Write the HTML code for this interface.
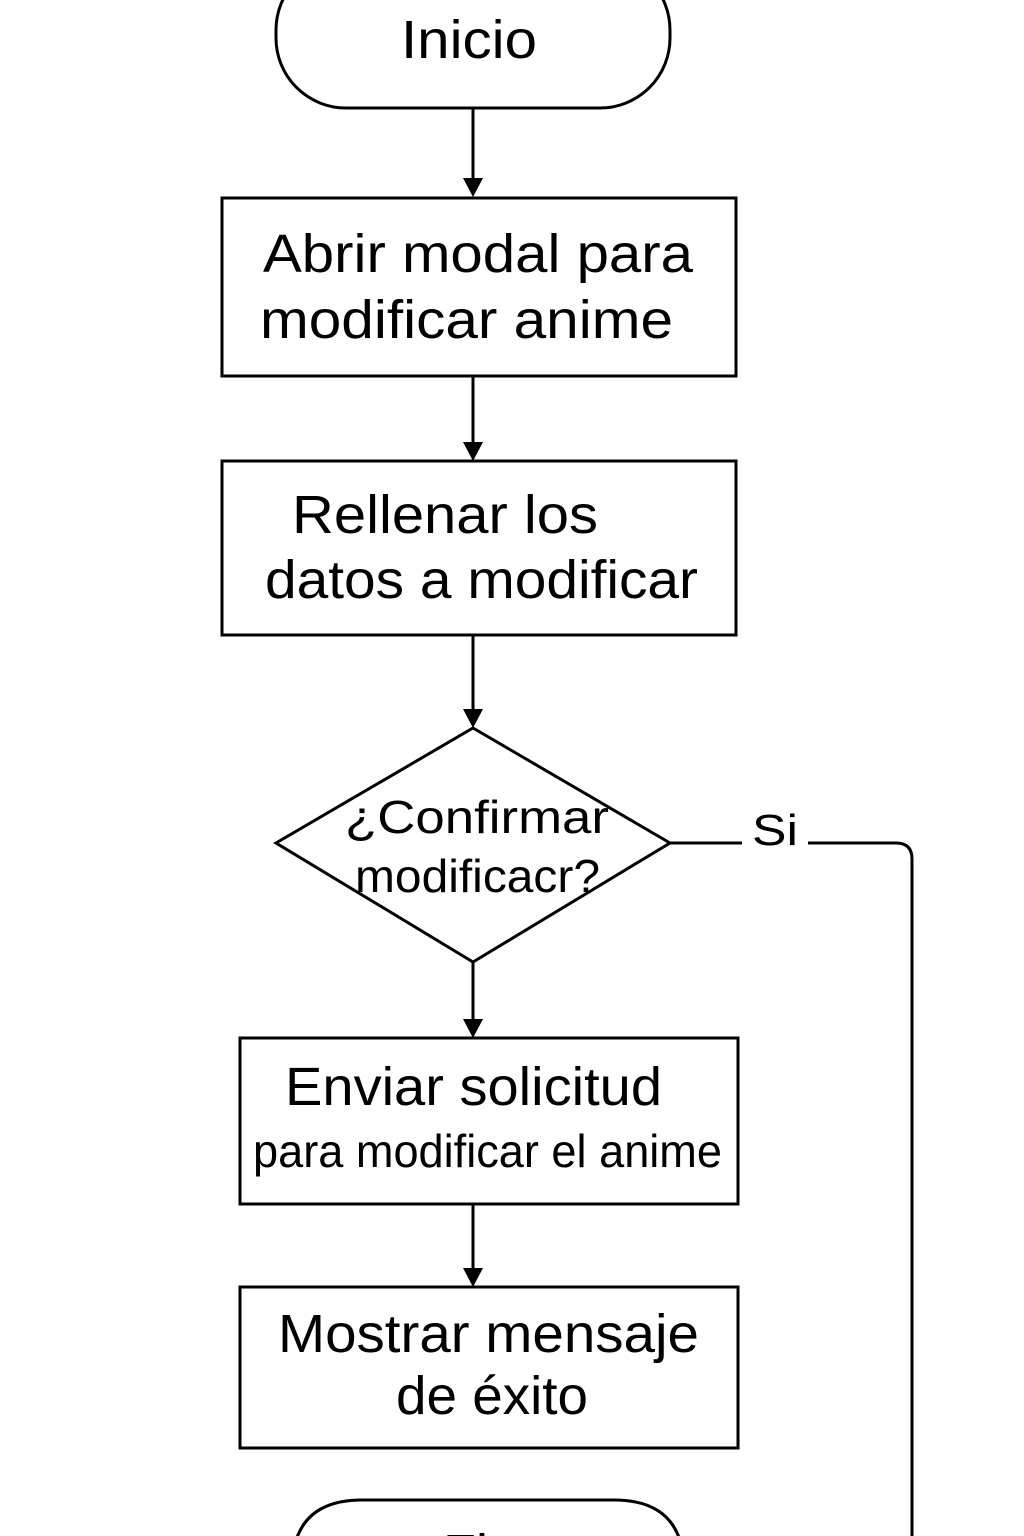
<!DOCTYPE html>
<html><head><meta charset="utf-8"><style>
html,body{margin:0;padding:0;background:#fff;width:1024px;height:1536px;overflow:hidden;}
svg{display:block;overflow:hidden;}
text{font-family:"Liberation Sans",sans-serif;fill:#000;}
</style></head><body>
<svg width="1024" height="1536" viewBox="0 0 1024 1536" xmlns="http://www.w3.org/2000/svg">
<g fill="none" stroke="#000" stroke-width="3">
<rect x="276" y="-40" width="394" height="148" rx="70"/>
<rect x="222" y="198" width="514" height="178"/>
<rect x="222" y="461" width="514" height="174"/>
<polygon points="473,728 670,843 473,962 276,843"/>
<rect x="240" y="1038" width="498" height="166"/>
<rect x="240" y="1287" width="498" height="161"/>
<path d="M292,1536 V1570 Q292,1500 362,1500 H614 Q684,1500 684,1570 V1536"/>
<path d="M473,108 V184 M473,376 V447 M473,635 V714 M473,962 V1024 M473,1204 V1273"/>
<path d="M670,843 H742 M808,843 H896 Q912,843 912,859 V1536"/>
</g>
<g fill="#000">
<path d="M463,178 L483,178 L473,197 Z"/>
<path d="M463,442 L483,442 L473,461 Z"/>
<path d="M463,709 L483,709 L473,728 Z"/>
<path d="M463,1019 L483,1019 L473,1038 Z"/>
<path d="M463,1268 L483,1268 L473,1287 Z"/>
</g>
<text x="401" y="58" font-size="54" textLength="136" lengthAdjust="spacingAndGlyphs">Inicio</text>
<text x="263" y="272" font-size="54" textLength="430" lengthAdjust="spacingAndGlyphs">Abrir modal para</text>
<text x="260" y="338" font-size="54" textLength="413" lengthAdjust="spacingAndGlyphs">modificar anime</text>
<text x="292" y="533" font-size="54" textLength="306" lengthAdjust="spacingAndGlyphs">Rellenar los</text>
<text x="265" y="598" font-size="54" textLength="433" lengthAdjust="spacingAndGlyphs">datos a modificar</text>
<text x="345" y="833" font-size="46" textLength="264" lengthAdjust="spacingAndGlyphs">¿Confirmar</text>
<text x="355" y="892" font-size="46" textLength="245" lengthAdjust="spacingAndGlyphs">modificacr?</text>
<text x="752" y="845" font-size="44" textLength="46" lengthAdjust="spacingAndGlyphs">Si</text>
<text x="285" y="1105" font-size="54" textLength="377" lengthAdjust="spacingAndGlyphs">Enviar solicitud</text>
<text x="253" y="1167" font-size="46" textLength="469" lengthAdjust="spacingAndGlyphs">para modificar el anime</text>
<text x="278" y="1352" font-size="54" textLength="421" lengthAdjust="spacingAndGlyphs">Mostrar mensaje</text>
<text x="396" y="1414" font-size="54" textLength="192" lengthAdjust="spacingAndGlyphs">de éxito</text>
<text x="443" y="1572" font-size="54">Fin</text>
</svg>
</body></html>
